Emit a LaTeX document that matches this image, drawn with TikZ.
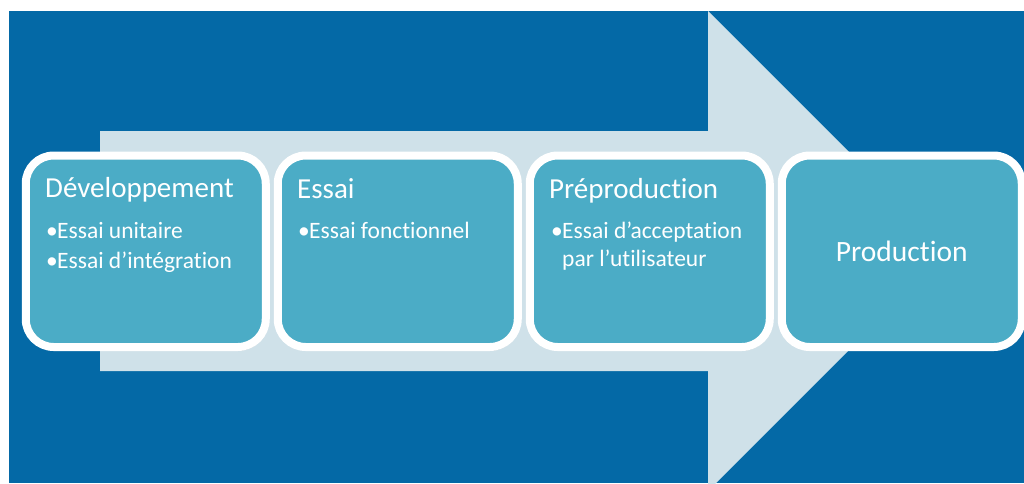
\documentclass[tikz,border=0pt]{standalone}
\usepackage{fontspec}
\setmainfont{Carlito}[Ligatures=NoCommon]
\usetikzlibrary{shadows}
\definecolor{bgblue}{HTML}{0469A6}
\definecolor{arrowlight}{HTML}{CFE1E9}
\definecolor{boxfill}{HTML}{4BACC6}
\tikzset{
  stagebox/.style={draw=white, line width=8pt, fill=boxfill, rounded corners=28pt,
    minimum width=240pt, minimum height=191.5pt, inner sep=0pt,
    drop shadow={shadow xshift=1.5pt, shadow yshift=-3.5pt, opacity=0.3, fill=black}},
  titletext/.style={anchor=base west, inner sep=0pt, text=white, font=\fontsize{29}{31}\selectfont},
  itemtext/.style={anchor=base west, inner sep=0pt, text=white, font=\fontsize{23.5}{26}\selectfont},
  centertext/.style={inner sep=0pt, text=white, font=\fontsize{29.5}{31}\selectfont}
}
\newcommand{\bul}{\makebox[11pt][l]{•}}
\begin{document}
\begin{tikzpicture}[x=1pt,y=-1pt]
\useasboundingbox (0,0) rectangle (1024,483);
\fill[bgblue] (9,11) rectangle (1024,483);
\begin{scope}
\clip (9,11) rectangle (1024,483);
\fill[arrowlight] (100,131) -- (708,131) -- (708,11) -- (948,251) -- (708,491) -- (708,371) -- (100,371) -- cycle;
\end{scope}
\node[stagebox] (b1) at (145.75,251.25) {};
\node[stagebox] (b2) at (397.75,251.25) {};
\node[stagebox] (b3) at (649.75,251.25) {};
\node[stagebox] (b4) at (901.75,251.25) {};
% box 1
\node[titletext] (t1) at (45,197) {Développement};
\node[itemtext] (t1a) at (46,238) {\bul Essai unitaire};
\node[itemtext] (t1b) at (46,268) {\bul Essai d’intégration};
% box 2
\node[titletext] (t2) at (297,198) {Essai};
\node[itemtext] (t2a) at (298,238) {\bul Essai fonctionnel};
% box 3
\node[titletext] (t3) at (549,198) {Préproduction};
\node[itemtext] (t3a) at (551,238) {\bul Essai d’acceptation};
\node[itemtext] (t3b) at (562,266) {par l’utilisateur};
% box 4
\node[centertext] (t4) at (b4.center) {Production};
\end{tikzpicture}
\end{document}
